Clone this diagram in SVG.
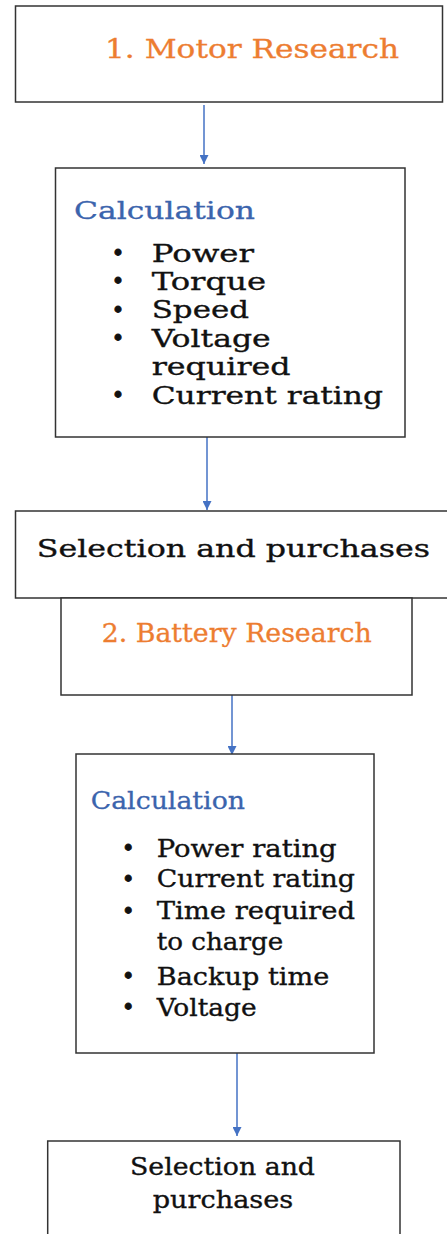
<svg xmlns="http://www.w3.org/2000/svg" width="447" height="1234" viewBox="0 0 447 1234">
<defs>
<style>
.box{fill:#fff;stroke:#333;stroke-width:1.5}
.t{font-family:"DejaVu Serif","Liberation Serif",serif;fill:#111;stroke:#111;stroke-width:0.35;font-size:25px}
.or{fill:#ED7D31;stroke:#ED7D31;stroke-width:0.3;font-size:25.5px}
.bl{fill:#3B64AD;stroke:#3B64AD;stroke-width:0.3;font-size:25px}
.bu{text-anchor:middle;font-size:22px;stroke-width:0.8}
.con{stroke:#4472C4;stroke-width:1.5;fill:none}
</style>
<marker id="ah" markerUnits="userSpaceOnUse" markerWidth="10" markerHeight="9" refX="9" refY="4.5" orient="auto">
<path d="M0,0 L9,4.5 L0,9 Z" fill="#4472C4"/>
</marker>
</defs>
<rect width="447" height="1234" fill="#fff"/>
<g id="connectors">
<path class="con" d="M204,105 V164" marker-end="url(#ah)"/>
<path class="con" d="M207,437 V510" marker-end="url(#ah)"/>
<path class="con" d="M232,692 V755" marker-end="url(#ah)"/>
<path class="con" d="M237,1053 V1136" marker-end="url(#ah)"/>
</g>
<g id="n1">
<rect class="box" x="15.5" y="6" width="427" height="96"/>
<text class="t or" x="105" y="58.3" textLength="294" lengthAdjust="spacingAndGlyphs">1. Motor Research</text>
</g>
<g id="n2">
<rect class="box" x="55.5" y="168" width="349.5" height="269"/>
<text class="t bl" x="74" y="219" textLength="181" lengthAdjust="spacingAndGlyphs">Calculation</text>
<text class="t bu" x="118" y="261">•</text>
<text class="t bu" x="118" y="289.3">•</text>
<text class="t bu" x="118" y="317.6">•</text>
<text class="t bu" x="118" y="346">•</text>
<text class="t bu" x="118" y="403.3">•</text>
<text class="t" x="151.7" y="261.7" textLength="102.3" lengthAdjust="spacingAndGlyphs">Power</text>
<text class="t" x="151.7" y="290" textLength="114.3" lengthAdjust="spacingAndGlyphs">Torque</text>
<text class="t" x="151.7" y="318.3" textLength="97.3" lengthAdjust="spacingAndGlyphs">Speed</text>
<text class="t" x="151.7" y="346.7" textLength="119" lengthAdjust="spacingAndGlyphs">Voltage</text>
<text class="t" x="151.7" y="375" textLength="139" lengthAdjust="spacingAndGlyphs">required</text>
<text class="t" x="151.7" y="404" textLength="231.3" lengthAdjust="spacingAndGlyphs">Current rating</text>
</g>
<g id="n3">
<rect class="box" x="15.5" y="511" width="440" height="87"/>
<text class="t" x="36.7" y="556.7" font-size="23.5" textLength="393.3" lengthAdjust="spacingAndGlyphs">Selection and purchases</text>
</g>
<g id="n4">
<rect class="box" x="61" y="598" width="351" height="97"/>
<text class="t or" x="101.7" y="642.3" textLength="270" lengthAdjust="spacingAndGlyphs">2. Battery Research</text>
</g>
<g id="n5">
<rect class="box" x="76" y="754" width="298" height="299"/>
<text class="t bl" x="90.7" y="809" textLength="154.3" lengthAdjust="spacingAndGlyphs">Calculation</text>
<text class="t bu" x="128.3" y="856">•</text>
<text class="t bu" x="128.3" y="886.6">•</text>
<text class="t bu" x="128.3" y="918.6">•</text>
<text class="t bu" x="128.3" y="984.3">•</text>
<text class="t bu" x="128.3" y="1015.3">•</text>
<text class="t" x="156.7" y="856.7" textLength="180" lengthAdjust="spacingAndGlyphs">Power rating</text>
<text class="t" x="156.7" y="887.3" textLength="198.3" lengthAdjust="spacingAndGlyphs">Current rating</text>
<text class="t" x="156.7" y="919.3" textLength="198.3" lengthAdjust="spacingAndGlyphs">Time required</text>
<text class="t" x="156.7" y="950" textLength="126.6" lengthAdjust="spacingAndGlyphs">to charge</text>
<text class="t" x="156.7" y="985" textLength="172.6" lengthAdjust="spacingAndGlyphs">Backup time</text>
<text class="t" x="156.7" y="1016" textLength="100" lengthAdjust="spacingAndGlyphs">Voltage</text>
</g>
<g id="n6">
<rect class="box" x="47.7" y="1141" width="352.3" height="110"/>
<text class="t" x="130" y="1175" font-size="23.5" textLength="185" lengthAdjust="spacingAndGlyphs">Selection and</text>
<text class="t" x="152.7" y="1208.3" font-size="23.5" textLength="140.6" lengthAdjust="spacingAndGlyphs">purchases</text>
</g>
</svg>
